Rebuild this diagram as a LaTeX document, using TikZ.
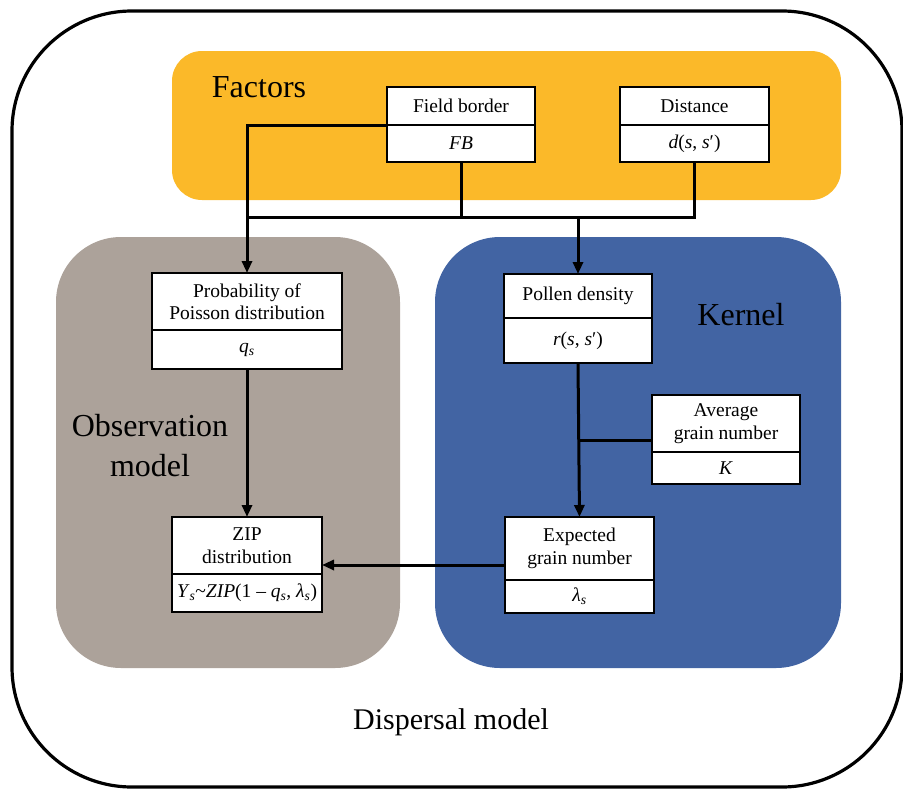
\documentclass[tikz,border=0pt]{standalone}
\usepackage{fontspec}
\setmainfont{Liberation Serif}
\usetikzlibrary{arrows.meta,positioning}
\definecolor{factorcol}{RGB}{251,185,41}
\definecolor{obscol}{RGB}{172,162,154}
\definecolor{kercol}{RGB}{66,100,163}
\tikzset{
  part/.style={draw=black, line width=2.8pt, fill=white, inner sep=0pt, outer sep=0pt,
    align=center, font=\fontsize{19.5}{22.5}\selectfont},
  arr/.style={line width=3pt, -{Triangle[length=12pt,width=10pt]}},
  ln/.style={line width=3pt},
  biglabel/.style={inner sep=0pt, font=\fontsize{32}{40}\selectfont},
}
\begin{document}
\begin{tikzpicture}[x=1pt,y=-1pt]
\useasboundingbox (0,0) rectangle (903,790);
% outer frame
\draw[line width=3.2pt, rounded corners=120pt] (12,11) rectangle (902,787);
% coloured regions
\fill[factorcol, rounded corners=30pt] (172,51) rectangle (841,200);
\fill[obscol, rounded corners=65pt] (56,237) rectangle (400,668);
\fill[kercol, rounded corners=65pt] (435,237) rectangle (841,668);
% region labels
\node[biglabel, anchor=base] (lfac) at (259,97) {Factors};
\node[biglabel, anchor=base] (lker) at (741,325) {Kernel};
\node[biglabel, align=center] (lobs) at (150,446) {Observation\\model};
\node[biglabel, font=\fontsize{30}{36}\selectfont, anchor=base] (ldis) at (451,729) {Dispersal model};
% factor boxes
\node[part, minimum width=148pt, minimum height=38pt] (fb) at (461,106) {Field border};
\node[part, minimum width=148pt, minimum height=37pt, anchor=north] (fbv) at (fb.south) {\textit{FB}};
\node[part, minimum width=149pt, minimum height=38pt] (ds) at (694.5,106) {Distance};
\node[part, minimum width=149pt, minimum height=37pt, anchor=north] (dsv) at (ds.south) {\textit{d}(\textit{s}, \textit{s}′)};
% observation model boxes
\node[part, minimum width=190pt, minimum height=57pt] (pr) at (247,301.5) {Probability of\\Poisson distribution};
\node[part, minimum width=190pt, minimum height=39pt, anchor=north] (prv) at (pr.south) {\textit{q}\textsubscript{\textit{s}}};
\node[part, minimum width=150pt, minimum height=57pt] (zip) at (247,545.5) {ZIP\\distribution};
\node[part, minimum width=150pt, minimum height=38pt, anchor=north] (zipv) at (zip.south)
  {\textit{Y}\textsubscript{\textit{s}}\textasciitilde\textit{ZIP}(1 – \textit{q}\textsubscript{\textit{s}}, \textit{λ}\textsubscript{\textit{s}})};
% kernel boxes
\node[part, minimum width=148pt, minimum height=44pt] (pd) at (578,296) {Pollen density};
\node[part, minimum width=148pt, minimum height=45pt, anchor=north] (pdv) at (pd.south) {\textit{r}(\textit{s}, \textit{s}′)};
\node[part, minimum width=148pt, minimum height=57pt] (av) at (726,423.5) {Average\\grain number};
\node[part, minimum width=148pt, minimum height=32pt, anchor=north] (avv) at (av.south) {\textit{K}};
\node[part, minimum width=149pt, minimum height=63pt] (ex) at (579.5,548.5) {Expected\\grain number};
\node[part, minimum width=149pt, minimum height=33pt, anchor=north] (exv) at (ex.south) {\textit{λ}\textsubscript{\textit{s}}};
% connectors
\coordinate (bus) at (247,217);
\draw[arr] (fb.south west) -| (pr.north);
\draw[ln] (dsv.south) |- (bus);
\draw[ln] (fbv.south) -- (fbv.south |- bus);
\draw[arr] (pd.north |- bus) -- (pd.north);
\draw[arr] (prv.south) -- (zip.north);
\draw[arr] (pdv.south) -- (ex.north);
\coordinate (kin) at ([yshift=-16.5pt]av.west);
\draw[ln] (kin) -- (pdv.south |- kin);
\coordinate (exout) at ([yshift=-16.5pt]ex.west);
\draw[arr] (exout) -- (zip.east |- exout);
\end{tikzpicture}
\end{document}
